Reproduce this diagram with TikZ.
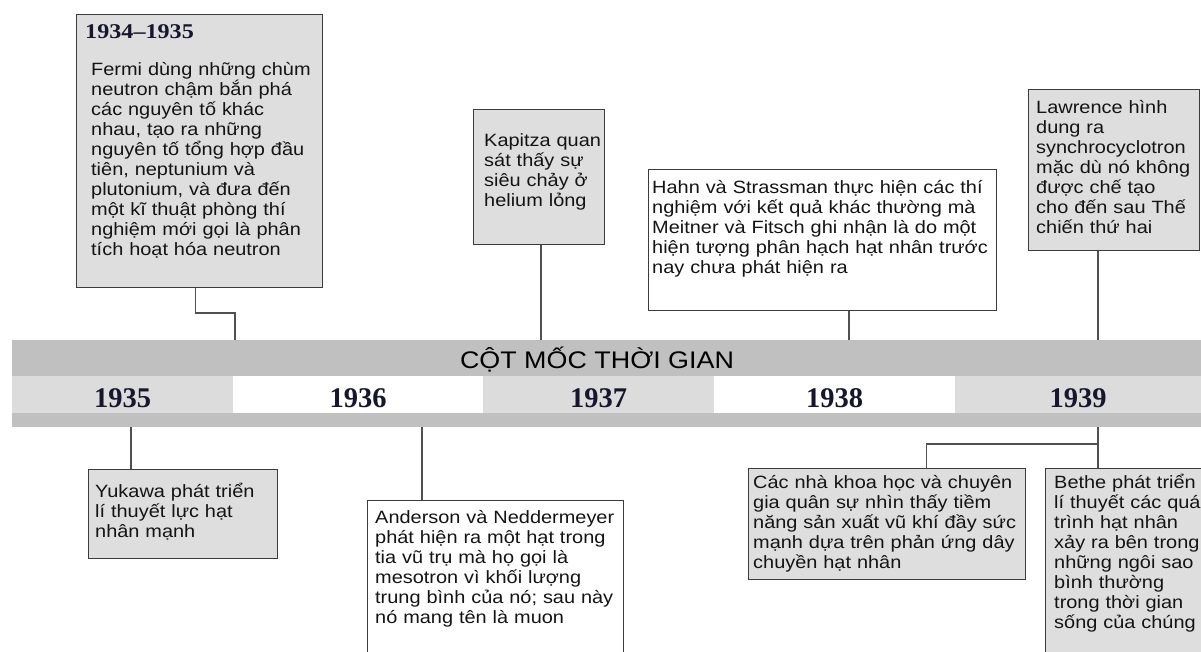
\documentclass[tikz,border=0pt]{standalone}
\usepackage{fontspec}
\usepackage{tikz}
\newfontfamily\evfont{Liberation Sans}[FakeStretch=1.12]
\newfontfamily\yrfont{Liberation Serif}
\newfontfamily\datefont{Liberation Serif}[FakeStretch=1.15]
\definecolor{bargray}{HTML}{C0C0C0}
\definecolor{cellgray}{HTML}{DCDCDC}
\definecolor{boxgray}{HTML}{DEDEDE}
\definecolor{edgegray}{HTML}{3C3C3C}
\definecolor{linkgray}{HTML}{505050}
\definecolor{yrink}{HTML}{16162C}

\begin{document}
\begin{tikzpicture}[x=1pt,y=-1pt,
  band/.style={fill=bargray,inner sep=0pt,anchor=north west,minimum width=1189pt},
  yearcell/.style={inner sep=0pt,anchor=north west,minimum height=37pt,text height=25pt,text depth=0pt,
    font=\yrfont\bfseries\fontsize{28.5}{30}\selectfont,text=yrink},
  evbox/.style={draw=edgegray,line width=1.4pt,inner sep=0pt,anchor=north west},
  evtext/.style={inner sep=0pt,anchor=base west,text width=400pt,align=left,
    font=\evfont\fontsize{17.8}{20}\selectfont,text=black!92},
  link/.style={draw=linkgray,line width=1.4pt}]
\clip (0,0) rectangle (1201,652);

% Time bar
\node[band,minimum height=36pt] (band) at (12,340) {};
\node[anchor=base,inner sep=0pt,font=\evfont\fontsize{24}{26}\selectfont] (title) at (597,368) {CỘT MỐC THỜI GIAN};
\node[yearcell,fill=cellgray,minimum width=221pt] (y1935) at (12,376) {1935};
\node[yearcell,fill=white,minimum width=250pt] (y1936) at (233,376) {1936};
\node[yearcell,fill=cellgray,minimum width=231pt] (y1937) at (483,376) {1937};
\node[yearcell,fill=white,minimum width=241pt] (y1938) at (714,376) {1938};
\node[yearcell,fill=cellgray,minimum width=246pt] (y1939) at (955,376) {1939};
\node[band,minimum height=14pt] (strip) at (12,413) {};

% Events above the bar
\node[evbox,fill=boxgray,minimum width=246pt,minimum height=273pt] (fermi) at (76,14) {};
\node[anchor=base west,inner sep=0pt,font=\datefont\bfseries\fontsize{21}{23}\selectfont,text=yrink] (fermidate) at (85,39) {1934–1935};
\node[evtext] (fermitxt) at (91,76) {Fermi dùng những chùm\\neutron chậm bắn phá\\các nguyên tố khác\\nhau, tạo ra những\\nguyên tố tổng hợp đầu\\tiên, neptunium và\\plutonium, và đưa đến\\một kĩ thuật phòng thí\\nghiệm mới gọi là phân\\tích hoạt hóa neutron};

\node[evbox,fill=boxgray,minimum width=131pt,minimum height=135pt] (kapitza) at (473,109) {};
\node[evtext] (kapitzatxt) at (484,147) {Kapitza quan\\sát thấy sự\\siêu chảy ở\\helium lỏng};

\node[evbox,fill=white,minimum width=348pt,minimum height=141pt] (hahn) at (648,169) {};
\node[evtext] (hahntxt) at (652,194) {Hahn và Strassman thực hiện các thí\\nghiệm với kết quả khác thường mà\\Meitner và Fitsch ghi nhận là do một\\hiện tượng phân hạch hạt nhân trước\\nay chưa phát hiện ra};

\node[evbox,fill=boxgray,minimum width=171pt,minimum height=161pt] (lawrence) at (1028,89) {};
\node[evtext] (lawrencetxt) at (1036,114) {Lawrence hình\\dung ra\\synchrocyclotron\\mặc dù nó không\\được chế tạo\\cho đến sau Thế\\chiến thứ hai};

% Events below the bar
\node[evbox,fill=boxgray,minimum width=189pt,minimum height=89pt] (yukawa) at (88,469) {};
\node[evtext] (yukawatxt) at (95,497) {Yukawa phát triển\\lí thuyết lực hạt\\nhân mạnh};

\node[evbox,fill=white,minimum width=256pt,minimum height=170pt] (anderson) at (367,500) {};
\node[evtext] (andersontxt) at (375,523) {Anderson và Neddermeyer\\phát hiện ra một hạt trong\\tia vũ trụ mà họ gọi là\\mesotron vì khối lượng\\trung bình của nó; sau này\\nó mang tên là muon};

\node[evbox,fill=boxgray,minimum width=277pt,minimum height=111pt] (cac) at (748,468) {};
\node[evtext] (cactxt) at (753,488) {Các nhà khoa học và chuyên\\gia quân sự nhìn thấy tiềm\\năng sản xuất vũ khí đầy sức\\mạnh dựa trên phản ứng dây\\chuyền hạt nhân};

\node[evbox,fill=boxgray,minimum width=170pt,minimum height=200pt] (bethe) at (1045,468) {};
\node[evtext] (bethetxt) at (1054,488) {Bethe phát triển\\lí thuyết các quá\\trình hạt nhân\\xảy ra bên trong\\những ngôi sao\\bình thường\\trong thời gian\\sống của chúng};

% Connectors
\coordinate (up1) at (235,340);
\coordinate (up2) at (541,340);
\coordinate (up3) at (849,340);
\coordinate (up4) at (1098,340);
\coordinate (dn1) at (131,427);
\coordinate (dn2) at (422,427);
\coordinate (dn3) at (1098,427);
\draw[link] (up1) -- ++(0,-27) -| ([xshift=-4pt]fermi.south);
\draw[link] (up2) -- (up2 |- kapitza.south);
\draw[link] (up3) -- (up3 |- hahn.south);
\draw[link] (up4) -- (up4 |- lawrence.south);
\draw[link] (dn1) -- (dn1 |- yukawa.north);
\draw[link] (dn2) -- (dn2 |- anderson.north);
\draw[link] (dn3) -- (dn3 |- bethe.north);
\draw[link] (dn3) ++(0,17) -| ([xshift=39.5pt]cac.north);
\end{tikzpicture}
\end{document}
